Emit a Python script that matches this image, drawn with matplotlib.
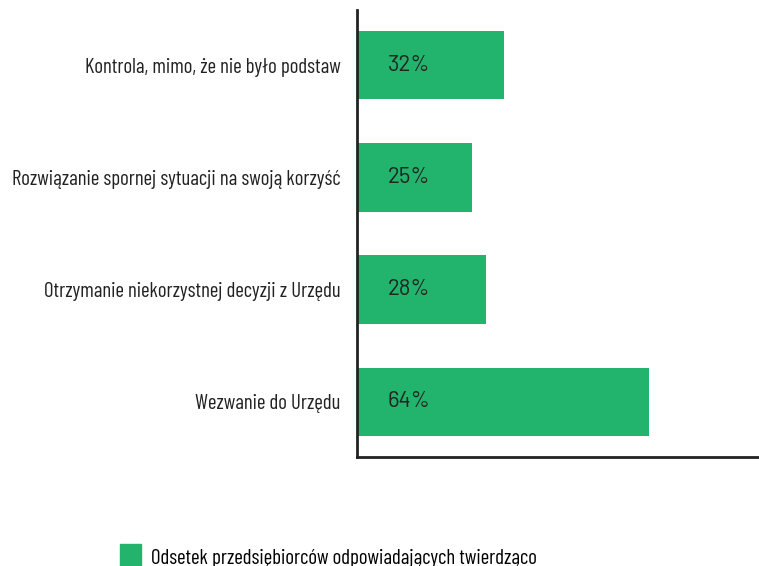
import matplotlib.pyplot as plt
from matplotlib.patches import Patch

# dane
categories = ['Kontrola, mimo, że nie było podstaw',
              'Rozwiązanie spornej sytuacji na swoją korzyść',
              'Otrzymanie niekorzystnej decyzji z Urzędu',
              'Wezwanie do Urzędu']
values = [32, 25, 28, 64]
legend_label = 'Odsetek przedsiębiorców odpowiadających twierdząco'

green = '#22b36d'
dark = '#222222'
label_font = ['Barlow Condensed', 'DejaVu Sans']

fig = plt.figure(figsize=(7.59, 5.66), dpi=100)
ax = fig.add_axes([357/759, 1 - 457/566, 402/759, 447/566])

y = list(range(len(categories)))
ax.barh(y, values, height=0.61, color=green, left=0.3)
for yi, v in zip(y, values):
    ax.text(6.8, yi, f'{v}%', va='center', ha='left', fontsize=16,
            color=dark, family=['Barlow', 'DejaVu Sans'])

ax.set_xlim(0, 88.5)
ax.set_ylim(3.49, -0.49)
ax.set_yticks(y)
ax.set_yticklabels(categories, family=label_font, fontsize=15, color=dark)
ax.tick_params(axis='y', length=0, pad=12)
ax.set_xticks([])
for s in ['top', 'right']:
    ax.spines[s].set_visible(False)
for s in ['left', 'bottom']:
    ax.spines[s].set_color(dark)
    ax.spines[s].set_linewidth(2)

fig.legend(handles=[Patch(color=green, label=legend_label)],
           loc='upper left', bbox_to_anchor=(120/759, 1 - 544/566),
           frameon=False, handlelength=1.0, handleheight=1.5,
           handletextpad=0.5, borderpad=0, borderaxespad=0,
           prop={'family': label_font, 'size': 15})

fig.savefig('out.png', dpi=100)
